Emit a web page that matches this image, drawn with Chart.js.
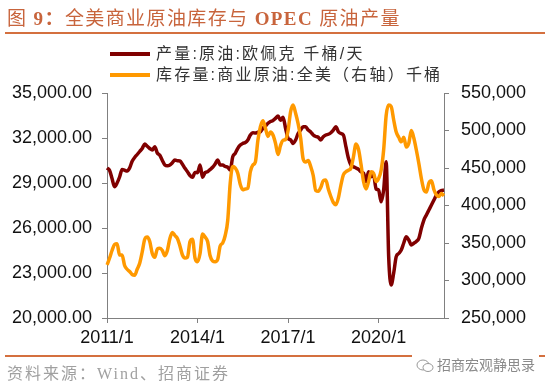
<!DOCTYPE html>
<html>
<head>
<meta charset="utf-8">
<script src="https://cdn.jsdelivr.net/npm/chart.js@4.4.0/dist/chart.umd.min.js"></script>
<style>
  body { margin: 0; background: #fff; }
  #wrap { position: relative; width: 550px; height: 385px; overflow: hidden; }
  #chart { position: absolute; left: 0; top: 0; }
  .title { position: absolute; left: 7px; top: 3px; font-size: 19px; letter-spacing: 1.4px; color: #c8643c; white-space: nowrap;
           font-family: "Liberation Serif", "Noto Sans CJK SC", serif; }
  .title b { font-weight: bold; }
  .rule { position: absolute; left: 5px; width: 540px; height: 2px; background: #d4703f; }
  .legend { position: absolute; left: 110px; font-size: 16px; letter-spacing: 2.2px; color: #333; white-space: nowrap;
            font-family: "Liberation Sans", "Noto Sans CJK SC", sans-serif; }
  .legend i { display: inline-block; width: 40px; height: 4px; vertical-align: middle; margin-right: 6px; position: relative; top: -1px; }
  .source { position: absolute; left: 7px; top: 360px; font-size: 16px; letter-spacing: 2px; color: #a0a0a0; white-space: nowrap;
            font-family: "Liberation Serif", "Noto Sans CJK SC", serif; }
  .mark { position: absolute; left: 412px; top: 354px; padding: 0 4px; background: #fff; font-size: 14px; color: #8a8a8a;
          font-family: "Noto Sans CJK SC", sans-serif; white-space: nowrap; }
  .mark svg { vertical-align: middle; margin-right: 3px; }
</style>
</head>
<body>
<div id="wrap">
  <canvas id="chart" width="550" height="385"></canvas>
  <div class="title">图 <b>9：</b>全美商业原油库存与 <b>OPEC</b> 原油产量</div>
  <div class="rule" style="top:32px"></div>
  <div class="legend" style="top:40px"><i style="background:#800000"></i>产量:原油:欧佩克 千桶/天</div>
  <div class="legend" style="top:61px"><i style="background:#ff9900"></i>库存量:商业原油:全美（右轴）千桶</div>
  <div class="rule" style="top:355px"></div>
  <div class="source">资料来源：Wind、招商证券</div>
  <div class="mark"><svg width="18" height="14" viewBox="0 0 18 14"><ellipse cx="7" cy="6" rx="6" ry="5" fill="none" stroke="#999" stroke-width="1"/><ellipse cx="12" cy="8.5" rx="5" ry="4" fill="#fff" stroke="#999" stroke-width="1"/></svg>招商宏观静思录</div>
</div>
<script>
// monthly, 2011/1 .. 2022/3
const startYear = 2011;
const monthCount = 135;
const tickLabels = ['2011/1', '2014/1', '2017/1', '2020/1'];

// 产量:原油:欧佩克 千桶/天
const opecOutput = [
  30000, 29850, 29300, 28750, 29000, 29400, 29900, 29850, 29800, 30000, 30450, 30700,
  30900, 31100, 31300, 31600, 31450, 31300, 31200, 31420, 31000, 30850, 30500, 30200,
  30150, 30200, 30350, 30530, 30480, 30470, 30250, 29980, 29750, 29500, 29380, 29700,
  29690, 30200, 29380, 29690, 29750, 29900, 30050, 30270, 30530, 30200, 30200, 30100,
  30050, 29870, 30750, 30980, 31310, 31530, 31640, 31700, 31870, 32200, 32350, 32330,
  32380, 32420, 32650, 32800, 32980, 33100, 33160, 33310, 33470, 33180, 33380, 32650,
  31980, 31870, 31640, 31870, 32300, 32530, 32750, 32750, 32530, 32400, 32200, 32100,
  32050, 31870, 32090, 32200, 32250, 32350, 32530, 32750, 32420, 32300, 32200, 31420,
  30650, 30200, 30090, 30000, 29910, 29750, 29650, 29090, 29750, 29420, 29530, 28600,
  28530, 27750, 28530, 30420, 24090, 22200, 23000, 24090, 24300, 24530, 25000, 25420,
  25200, 24870, 24980, 25100, 25310, 25980, 26530, 26870, 27200, 27530, 27870, 28200,
  28420, 28500, 28530
];

// 库存量:商业原油:全美 千桶 (right axis)
const usStocks = [
  320700, 329600, 340000, 348000, 349000, 334000, 334000, 320000, 315000, 312000, 308000, 307000,
  315000, 323000, 338000, 355000, 358000, 352000, 336000, 331000, 342000, 343000, 340000, 333000,
  340000, 356000, 364000, 360000, 356000, 346000, 334000, 330000, 331000, 352000, 355000, 330000,
  325000, 336000, 362000, 358000, 352000, 333000, 326000, 325000, 328000, 346000, 350000, 360000,
  380000, 430000, 452000, 450000, 443000, 428000, 421000, 422000, 423000, 445000, 454000, 458000,
  487000, 505000, 513000, 503000, 492000, 498000, 494000, 483000, 468000, 480000, 487000, 488000,
  500000, 525000, 534000, 523000, 509000, 490000, 462000, 458000, 460000, 452000, 440000, 420000,
  419000, 424000, 433000, 434000, 422000, 412000, 404000, 401000, 410000, 427000, 441000, 445000,
  447000, 450000, 465000, 482000, 475000, 455000, 432000, 422000, 432000, 445000, 443000, 432000,
  436000, 447000, 474000, 520000, 534000, 532000, 514000, 498000, 491000, 485000, 491000, 478000,
  483000, 500000, 490000, 474000, 456000, 436000, 421000, 418000, 430000, 433000, 421000, 414000,
  412000, 416000, 413000
];

const months = [];
for (let i = 0; i < monthCount; i++) {
  months.push((startYear + Math.floor(i / 12)) + '/' + (i % 12 + 1));
}

const tickFont = { family: '"Liberation Sans", Arial, sans-serif', size: 18 };
const axisGrey = '#808080';

new Chart(document.getElementById('chart').getContext('2d'), {
  type: 'line',
  data: {
    labels: months,
    datasets: [
      {
        label: '产量:原油:欧佩克 千桶/天',
        data: opecOutput,
        borderColor: '#800000',
        borderWidth: 3.5,
        pointRadius: 0,
        cubicInterpolationMode: 'monotone',
        yAxisID: 'y',
        order: 1,
      },
      {
        label: '库存量:商业原油:全美（右轴）千桶',
        data: usStocks,
        borderColor: '#ff9900',
        borderWidth: 3.5,
        pointRadius: 0,
        cubicInterpolationMode: 'monotone',
        yAxisID: 'y1',
        order: 0,
      },
    ],
  },
  options: {
    responsive: false,
    animation: false,
    layout: { padding: { top: 93, left: 0, right: 0, bottom: 0 } },
    plugins: { legend: { display: false }, tooltip: { enabled: false } },
    scales: {
      x: {
        type: 'category',
        offset: false,
        border: { display: true, color: axisGrey, width: 1 },
        grid: { drawOnChartArea: false, drawTicks: true, tickLength: 5, color: axisGrey },
        ticks: {
          autoSkip: false,
          maxRotation: 0,
          padding: 4,
          color: '#111',
          font: tickFont,
          callback: function (v) {
            const lab = this.getLabelForValue(v);
            return tickLabels.includes(lab) ? lab : null;
          },
        },
        afterFit: (scale) => { scale.height = 67; },
      },
      y: {
        position: 'left',
        min: 20000,
        max: 35000,
        border: { display: true, color: axisGrey, width: 1 },
        grid: { drawOnChartArea: false, drawTicks: true, tickLength: 5, color: axisGrey },
        ticks: {
          stepSize: 3000,
          padding: 10,
          color: '#111',
          font: tickFont,
          callback: v => v.toLocaleString('en-US', { minimumFractionDigits: 2, maximumFractionDigits: 2 }),
        },
        afterFit: (scale) => { scale.width = 107; },
      },
      y1: {
        position: 'right',
        min: 250000,
        max: 550000,
        border: { display: true, color: axisGrey, width: 1 },
        grid: { drawOnChartArea: false, drawTicks: true, tickLength: 5, color: axisGrey },
        ticks: {
          stepSize: 50000,
          padding: 12,
          color: '#111',
          font: tickFont,
          callback: v => v.toLocaleString('en-US'),
        },
        afterFit: (scale) => { scale.width = 106; },
      },
    },
  },
});
</script>
</body>
</html>
